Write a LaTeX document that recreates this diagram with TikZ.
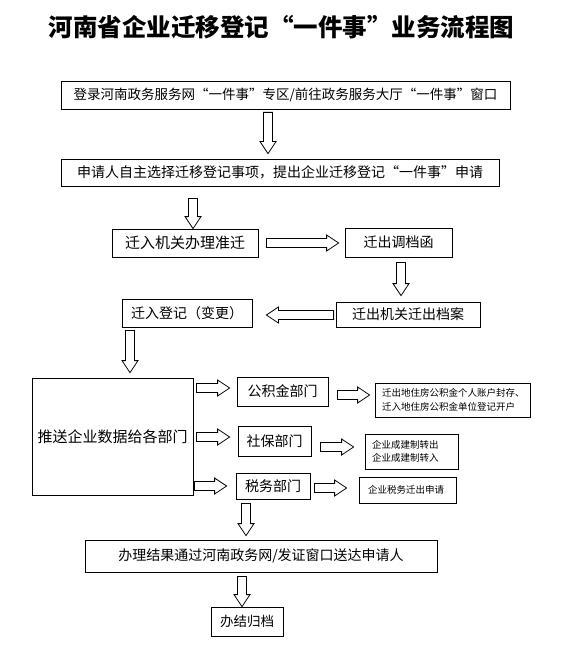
\documentclass[tikz,border=0pt]{standalone}
\usepackage{fontspec}
\setmainfont{Noto Sans CJK SC}
\usetikzlibrary{calc}

\tikzset{
  titulo/.style={font=\bfseries\fontsize{24.5}{28}\selectfont},
  caja/.style={draw, line width=0.8pt, inner sep=0pt, font=\fontsize{14}{16}\selectfont},
  nota/.style={caja, align=left, inner ysep=0pt, font=\fontsize{9.5}{13.5}\selectfont},
  hueca/.style={draw, line width=0.8pt, fill=white, line join=miter}
}

% flecha hueca de #3 a #4, separada #1 y #2 de las cajas
\NewDocumentCommand{\flecha}{O{3pt} O{4pt} m m}{%
  \coordinate (fs) at ($(#3)!#1!(#4)$);
  \coordinate (fe) at ($(#4)!#2!(#3)$);
  \coordinate (fb) at ($(fe)!12pt!(fs)$);
  \draw[hueca] ($(fs)!4.5pt!90:(fe)$) -- ($(fb)!4.5pt!90:(fe)$)
     -- ($(fb)!8pt!90:(fe)$) -- (fe) -- ($(fb)!8pt!-90:(fe)$)
     -- ($(fb)!4.5pt!-90:(fe)$) -- ($(fs)!4.5pt!-90:(fe)$) -- cycle;
}

\begin{document}
\begin{tikzpicture}[x=1pt,y=-1pt]
        % Paso 1: Fija el marco de la figura
        \path[fill=white] (0,0) rectangle (566,647);

        % Paso 2: Escribe el titulo
        \node[titulo] (T) at (281.5,27) {河南省企业迁移登记“一件事”业务流程图};

        % Paso 3: Define las cajas de la parte superior
        \node[caja, minimum width=449pt, minimum height=28pt, font=\fontsize{13.5}{16}\selectfont] (A) at (285.5,95)
             {登录河南政务服务网“一件事”专区/前往政务服务大厅“一件事”窗口};
        \node[caja, minimum width=438pt, minimum height=27pt, font=\fontsize{14}{16}\selectfont] (B) at (280,172.5)
             {申请人自主选择迁移登记事项，提出企业迁移登记“一件事”申请};

        % Paso 4: Define las cajas del traslado de archivo
        \node[caja, minimum width=146pt, minimum height=28pt, font=\fontsize{15}{17}\selectfont] (C) at (185,243) {迁入机关办理准迁};
        \node[caja, minimum width=107pt, minimum height=29pt] (D) at (398.5,242.5) {迁出调档函};
        \node[caja, minimum width=144pt, minimum height=25pt] (E) at (408,314.5) {迁出机关迁出档案};
        \node[caja, minimum width=130pt, minimum height=28pt] (F) at (187,313) {迁入登记（变更）};

        % Paso 5: Define la caja grande y los departamentos
        \node[caja, minimum width=161pt, minimum height=117pt, font=\fontsize{15}{17}\selectfont] (G) at (112.5,436.5) {推送企业数据给各部门};
        \node[caja, minimum width=91pt, minimum height=29pt] (H) at (282.5,391.5) {公积金部门};
        \node[caja, minimum width=73pt, minimum height=30pt] (I) at (274.5,441) {社保部门};
        \node[caja, minimum width=74pt, minimum height=26pt] (J) at (273,486) {税务部门};

        % Paso 6: Define las notas de cada departamento
        \node[nota, text width=141pt, inner xsep=7pt, minimum height=34pt] (K) at (452.5,400)
             {迁出地住房公积金个人账户封存、\\迁入地住房公积金单位登记开户};
        \node[nota, text width=79pt, inner xsep=7pt, minimum height=35pt] (L) at (411.5,451.5)
             {企业成建制转出\\企业成建制转入};
        \node[nota, text width=79pt, inner xsep=9pt, minimum height=26pt] (M) at (407.5,490) {企业税务迁出申请};

        % Paso 7: Define las cajas finales
        \node[caja, minimum width=352pt, minimum height=32pt] (N) at (261,556) {办理结果通过河南政务网/发证窗口送达申请人};
        \node[caja, minimum width=72pt, minimum height=29pt, font=\fontsize{13.5}{16}\selectfont] (P) at (247,621.5) {办结归档};

        % Paso 8: Dibuja las flechas huecas de la parte superior
        \flecha[3pt][5pt]{268,0 |- A.south}{268,0 |- B.north}
        \flecha[12pt][0pt]{193,0 |- B.south}{193,0 |- C.north}
        \flecha[8pt][6pt]{C.east |- 0,243}{D.west |- 0,243}
        \flecha[5pt][6pt]{401,0 |- D.south}{401,0 |- E.north}
        \flecha[2pt][14pt]{E.west |- 0,315}{F.east |- 0,315}
        \flecha[3pt][5pt]{130,0 |- F.south}{130,0 |- G.north}

        % Paso 9: Dibuja las flechas hacia los departamentos y sus notas
        \flecha[3pt][7pt]{G.east |- 0,388}{H.west |- 0,388}
        \flecha[3pt][8pt]{G.east |- 0,437}{I.west |- 0,437}
        \flecha[1pt][9pt]{G.east |- 0,486}{J.west |- 0,486}
        \flecha[9pt][5pt]{H.east |- 0,395}{K.west |- 0,395}
        \flecha[9pt][11pt]{I.east |- 0,447}{L.west |- 0,447}
        \flecha[4pt][12pt]{J.east |- 0,488}{M.west |- 0,488}

        % Paso 10: Dibuja las flechas finales
        \flecha[4pt][4pt]{246,0 |- J.south}{246,0 |- N.north}
        \flecha[4pt][0pt]{242,0 |- N.south}{242,0 |- P.north}
\end{tikzpicture}
\end{document}
